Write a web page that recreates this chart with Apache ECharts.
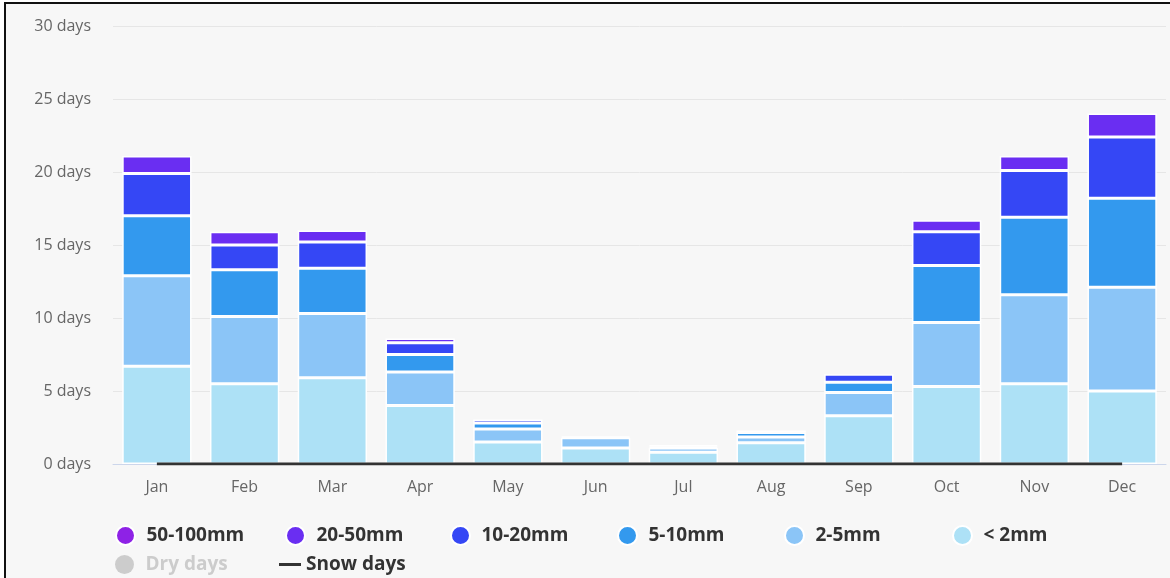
<!DOCTYPE html>
<html lang="en">
<head>
    <meta charset="UTF-8">
    <title>Precipitation days</title>
    <script src="https://cdn.jsdelivr.net/npm/echarts@6/dist/echarts.min.js"></script>
    <style>
        body{ margin:0; background:#fff; }
        #frame{
            position:absolute; left:4px; top:2px;
            width:1166px; height:576px;
            box-sizing:border-box;
            border-left:2px solid #111;
            border-top:2px solid #111;
            background:#f7f7f7;
        }
        #chart{ position:absolute; left:0; top:0; width:1170px; height:578px; }
    </style>
</head>
<body>
<div id="frame"></div>
<div id="chart"></div>
<script>
// months
let months = ['Jan', 'Feb', 'Mar', 'Apr', 'May', 'Jun', 'Jul', 'Aug', 'Sep', 'Oct', 'Nov', 'Dec']
// days per month, by precipitation amount
let less2 = [6.7, 5.5, 5.9, 4.0, 1.5, 1.1, 0.8, 1.45, 3.3, 5.3, 5.5, 5.0]
let mm2_5 = [6.2, 4.6, 4.4, 2.3, 0.9, 0.7, 0.3, 0.4, 1.6, 4.4, 6.1, 7.1]
let mm5_10 = [4.1, 3.2, 3.1, 1.2, 0.4, 0.1, 0.1, 0.3, 0.7, 3.9, 5.3, 6.1]
let mm10_20 = [2.9, 1.7, 1.8, 0.8, 0.25, 0, 0.1, 0.15, 0.55, 2.3, 3.2, 4.2]
let mm20_50 = [1.2, 0.9, 0.8, 0.3, 0, 0, 0, 0, 0, 0.8, 1.0, 1.6]
let mm50_100 = [0, 0, 0, 0, 0, 0, 0, 0, 0, 0, 0, 0]
let snowDays = [0, 0, 0, 0, 0, 0, 0, 0, 0, 0, 0, 0]
let yTicks = [0, 5, 10, 15, 20, 25, 30]

let chart = echarts.init(document.getElementById('chart'))

// zero segments are not drawn (otherwise a white border line shows)
function bars(name, data, color){
    return {
        name: name,
        type: 'bar',
        stack: 'rain',
        barCategoryGap: '21%',
        data: data.map(v => v === 0 ? '-' : v),
        itemStyle: { color: color, borderColor: '#fff', borderWidth: 1.5 },
        emphasis: { disabled: true }
    }
}

let legendFont = { fontFamily: 'Open Sans', fontWeight: 'bold', fontSize: 19, color: '#333' }

// one legend box per item, so they sit in columns like the original
function legendItem(name, left, top, extra){
    return Object.assign({
        data: [name],
        left: left,
        top: top,
        icon: 'circle',
        itemWidth: 32,
        itemHeight: 19,
        textStyle: legendFont,
        inactiveColor: '#ccc'
    }, extra || {})
}

let option = {
    animation: false,
    backgroundColor: 'transparent',
    grid: { left: 113, right: 4, top: 26, bottom: 114 },
    legend: [
        legendItem('50-100mm', 110, 520),
        legendItem('20-50mm', 280, 520),
        legendItem('10-20mm', 445, 520),
        legendItem('5-10mm', 612, 520),
        legendItem('2-5mm', 779, 520),
        legendItem('< 2mm', 947, 520),
        legendItem('Dry days', 110, 550, { selected: { 'Dry days': false } }),
        legendItem('Snow days', 274, 550, { icon: 'rect', itemWidth: 22, itemHeight: 3 })
    ],
    xAxis: {
        type: 'category',
        data: months,
        axisTick: { show: false },
        axisLine: { lineStyle: { color: '#ccd6eb', width: 1 } },
        axisLabel: { color: '#666', fontFamily: 'Open Sans', fontSize: 16, margin: 15 }
    },
    yAxis: {
        type: 'value',
        min: yTicks[0],
        max: yTicks[yTicks.length - 1],
        interval: 5,
        axisLine: { show: false },
        axisTick: { show: false },
        splitLine: { lineStyle: { color: '#e6e6e6' } },
        axisLabel: { color: '#666', fontFamily: 'Open Sans', fontSize: 16, margin: 22, formatter: '{value} days' }
    },
    series: [
        bars('< 2mm', less2, '#ade1f6'),
        bars('2-5mm', mm2_5, '#8bc5f7'),
        bars('5-10mm', mm5_10, '#3399ee'),
        bars('10-20mm', mm10_20, '#3547f5'),
        bars('20-50mm', mm20_50, '#6a2ef2'),
        bars('50-100mm', mm50_100, '#8e22e6'),
        {
            name: 'Dry days',
            type: 'bar',
            data: [],
            itemStyle: { color: '#cccccc' }
        },
        {
            name: 'Snow days',
            type: 'line',
            data: snowDays,
            symbol: 'none',
            z: 5,
            itemStyle: { color: '#333' },
            lineStyle: { color: '#333', width: 3 }
        }
    ]
}
chart.setOption(option)
</script>
</body>
</html>
